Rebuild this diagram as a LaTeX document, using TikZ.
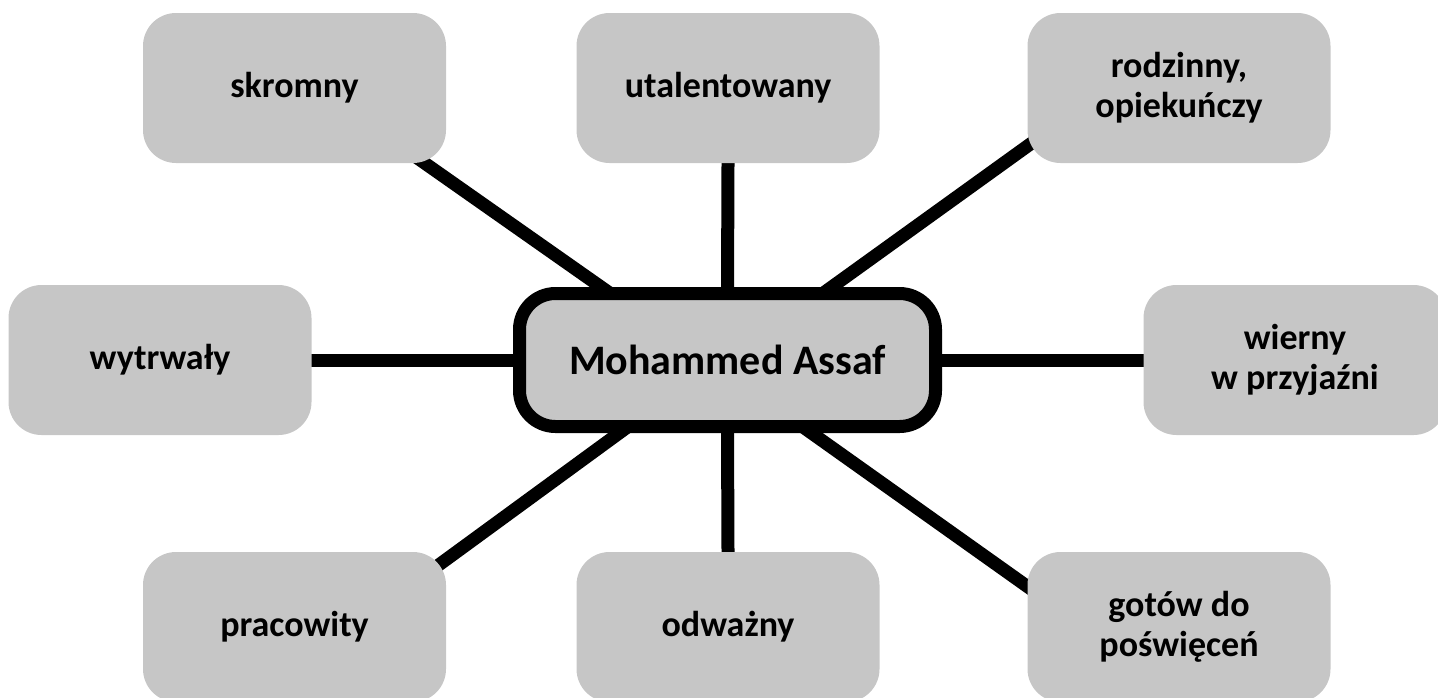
\documentclass[tikz,border=0pt]{standalone}
\usepackage{fontspec}
\setmainfont{Carlito}
\definecolor{BoxGray}{HTML}{C6C6C6}
\pgfdeclarelayer{background}
\pgfsetlayers{background,main}

\begin{document}
\begin{tikzpicture}[x=0.5pt,y=-0.5pt,
  trait/.style={fill=BoxGray,rounded corners=16.5pt,minimum width=151.5pt,minimum height=75pt,
    inner sep=0pt,align=center,font=\fontsize{18}{20}\selectfont\bfseries},
  hub/.style={draw=black,fill=BoxGray,line width=6.5pt,rounded corners=18pt,minimum width=208pt,
    minimum height=66.5pt,inner sep=0pt,font=\fontsize{21}{25}\selectfont\bfseries},
  link/.style={line width=6.5pt,shorten <=-10pt,shorten >=-10pt}]
  \useasboundingbox (0,0) rectangle (1438,697);
  \node[hub] (assaf) at (727.5,360) {Mohammed Assaf};
  \node[trait] (skromny) at (294.5,88) {skromny};
  \node[trait] (utal) at (728,88) {utalentowany};
  \node[trait] (rodz) at (1179,88) {rodzinny,\\opiekuńczy};
  \node[trait] (wytr) at (160,360) {wytrwały};
  \node[trait] (wier) at (1295,360) {wierny\\w przyjaźni};
  \node[trait] (prac) at (294.5,627) {pracowity};
  \node[trait] (odw) at (728,627) {odważny};
  \node[trait] (got) at (1179,627) {gotów do\\poświęceń};
  % connectors behind the boxes
  \begin{pgfonlayer}{background}
    \draw[link] (assaf.150) -- (skromny.-30);
    \draw[link] (assaf.north) -- (utal.south);
    \draw[link] (assaf.35) -- (rodz.201);
    \draw[link] (assaf.west) -- (wytr.east);
    \draw[link] (assaf.east) -- (wier.west);
    \draw[link] (assaf.214) -- (prac.24);
    \draw[link] (assaf.south) -- (odw.north);
    \draw[link] (assaf.-41) -- (got.165);
  \end{pgfonlayer}
\end{tikzpicture}
\end{document}
